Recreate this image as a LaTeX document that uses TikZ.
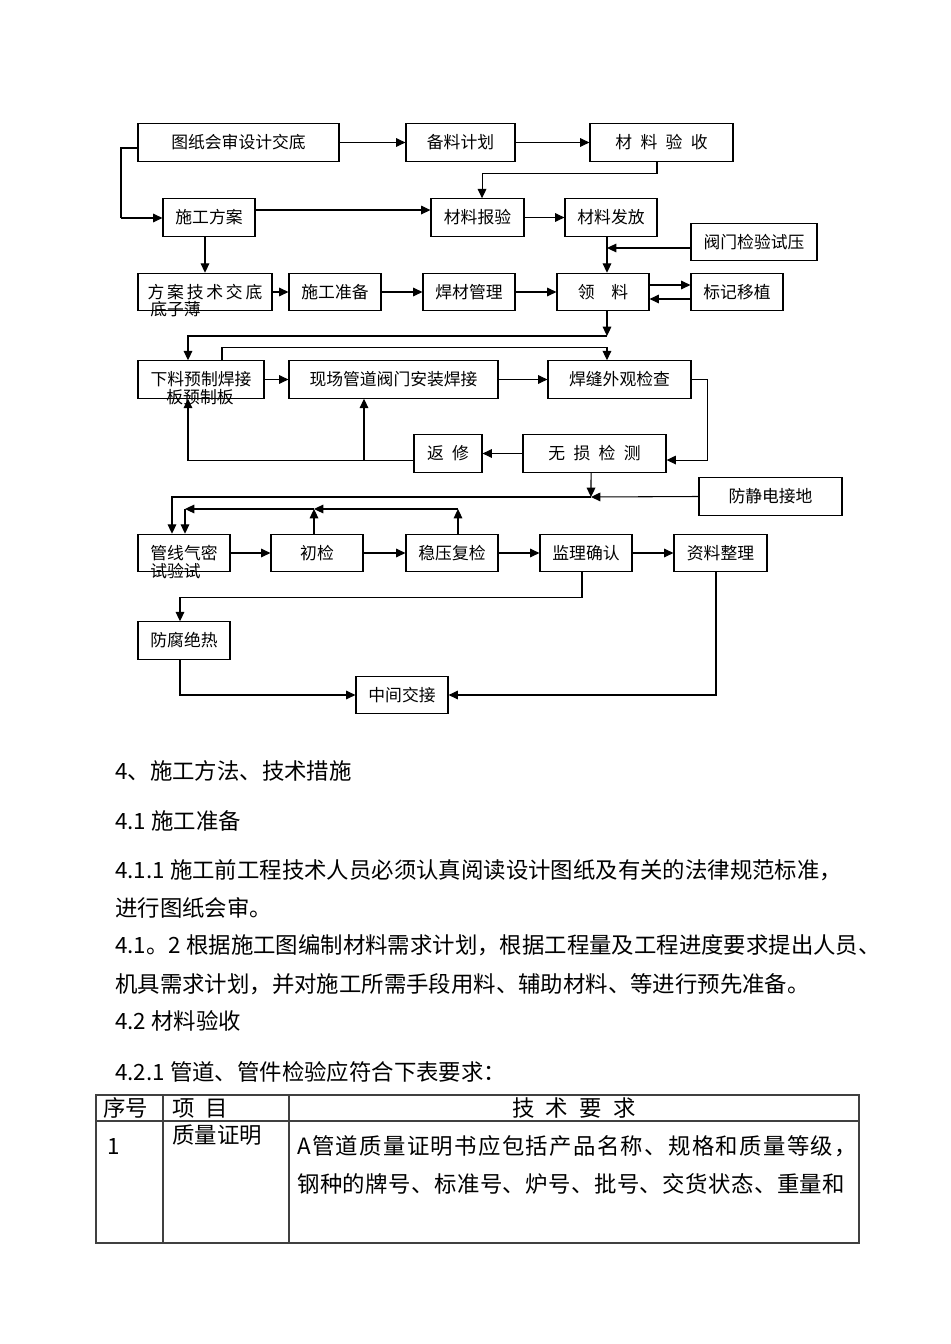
\documentclass[tikz,border=0pt]{standalone}
\usepackage{fontspec}
\newfontfamily\cjk{Noto Sans CJK SC}
\usetikzlibrary{arrows.meta}

\begin{document}
\begin{tikzpicture}[x=0.75pt, y=-0.75pt,
    box/.style={draw, line width=0.9pt, inner sep=0pt, minimum height=28pt,
        font={\cjk\fontsize{12.6pt}{15pt}\selectfont}},
    boxtxt/.style={inner sep=0pt, font={\cjk\fontsize{12.6pt}{15pt}\selectfont}},
    bodytxt/.style={inner sep=0pt, anchor=west, font={\cjk\fontsize{16.8pt}{20pt}\selectfont}},
    arr/.style={-{Triangle[length=7pt,width=6.5pt]}, line width=0.8pt},
    tbl/.style={line width=0.8pt, black!75}]

\useasboundingbox (0,0) rectangle (950,1344);
\fill[white] (0,0) rectangle (950,1344);

\foreach \n/\cx/\cy/\w/\t in
{   nDesign/238.5/142.5/201/图纸会审设计交底,
    nMatPlan/460.5/142.5/109/备料计划,
    nMatCheck/661.5/142.5/143/材\hspace{.5em}料\hspace{.5em}验\hspace{.5em}收,
    nScheme/209/217.5/92/施工方案,
    nMatReport/477.5/217.5/93/材料报验,
    nMatIssue/611/217.5/92/材料发放,
    nValveTest/754/242/126/阀门检验试压,
    nBriefing/205/292/134/方\,案\,技\,术\,交\,底,
    nPrep/335/292/92/施工准备,
    nWeldMat/469/292/92/焊材管理,
    nPickUp/603/292/92/领\hspace{1em}料,
    nMarking/737/292/92/标记移植,
    nPrefab/201/379.5/126/下料预制焊接,
    nInstall/393.5/379.5/209/现场管道阀门安装焊接,
    nWeldLook/619.5/379.5/143/焊缝外观检查,
    nRepair/448/453.5/68/返\hspace{.5em}修,
    nNDT/594.5/453.5/143/无\hspace{.5em}损\hspace{.5em}检\hspace{.5em}测,
    nGround/770.5/496.5/143/防静电接地,
    nLeakTest/184/553/92/管线气密,
    nFirst/317/553/92/初检,
    nStable/452/553/92/稳压复检,
    nSupervise/586/553/92/监理确认,
    nDocs/720.5/553/93/资料整理,
    nAnticorr/184/640.5/92/防腐绝热,
    nHandover/402/695/92/中间交接
}
{
    \node[box, minimum width=\w*0.75pt] (\n) at (\cx,\cy) {\t};
};

% second lines running out of the boxes
\node[boxtxt, anchor=west] (nBriefingB) at (150,309) {底子薄};
\node[boxtxt] (nPrefabB) at (200,397) {板预制板};
\node[boxtxt, anchor=west] (nLeakTestB) at (150,571) {试验试};

% top part
\draw[arr] (nDesign) -- (nMatPlan);
\draw[arr] (nMatPlan) -- (nMatCheck);
\coordinate (cDesL) at (121,148);
\coordinate (cDesB) at (121,218);
\draw[line width=0.8pt] (nDesign.west |- cDesL) -- (cDesL) -- (cDesB);
\draw[arr] (cDesB) -- (nScheme.west |- cDesB);
\draw[arr] ([yshift=5.6pt]nScheme.east) -- ([yshift=5.6pt]nMatReport.west);
\draw[arr] (nMatReport) -- (nMatIssue);
\draw[arr] ([xshift=-3.4pt]nMatCheck.south) -- ++(0,12) -| ([xshift=3.4pt]nMatReport.north);
\coordinate (cValve) at (607,248);
\draw[arr] (nValveTest.west |- cValve) -- (cValve);
\draw[arr] ([xshift=-3pt]nMatIssue.south) -- ([xshift=3pt]nPickUp.north);

\draw[arr] ([xshift=-3pt]nScheme.south) -- (nBriefing.north);
\foreach \a/\b in {nBriefing/nPrep, nPrep/nWeldMat, nWeldMat/nPickUp}
{
    \draw[arr] (\a) -- (\b);
};
\draw[arr] ([yshift=5.25pt]nPickUp.east) -- ([yshift=5.25pt]nMarking.west);
\draw[arr] ([yshift=-5.25pt]nMarking.west) -- ([yshift=-5.25pt]nPickUp.east);

% welding loop
\coordinate (cPick) at (607,336);
\draw[arr] ([xshift=3pt]nPickUp.south) -- (cPick);
\draw[arr] (cPick) -| ([xshift=-9.75pt]nPrefab.north);
\draw[arr] ([xshift=15.75pt]nPrefab.north) -- ++(0,-13) -| ([xshift=-9.4pt]nWeldLook.north);
\draw[arr] (nPrefab) -- (nInstall);
\draw[arr] (nInstall) -- (nWeldLook);
\draw[arr] (nWeldLook.east) -- ++(16,0) |- ([yshift=-4.9pt]nNDT.east);
\draw[arr] (nNDT) -- (nRepair);
\coordinate (cRepair) at (364,460);
\draw[arr] ([yshift=-4.9pt]nRepair.west) -| ([xshift=-9.75pt]nPrefab.south);
\draw[arr] (cRepair) -- (nInstall.south -| cRepair);

% testing
\coordinate (cGround) at (591,497);
\draw[arr] ([xshift=-2.6pt]nNDT.south) -- (cGround);
\draw[arr] (nGround.west) -- (cGround);
\draw[arr] (cGround) -| ([xshift=-9pt]nLeakTest.north);
\coordinate (cStable) at (458,509);
\coordinate (cFirst) at (314,509);
\coordinate (cLeak) at (185,509);
\draw[arr] (nStable.north -| cStable) -- (cStable);
\draw[arr] (cStable) -- (cFirst);
\draw[arr] (nFirst.north -| cFirst) -- (cFirst);
\draw[arr] (cFirst) -- (cLeak);
\draw[arr] (cLeak) -- (nLeakTest.north -| cLeak);
\foreach \a/\b in {nLeakTest/nFirst, nFirst/nStable, nStable/nSupervise, nSupervise/nDocs}
{
    \draw[arr] (\a) -- (\b);
};
\draw[arr] ([xshift=-3pt]nSupervise.south) -- ++(0,25) -| ([xshift=-3pt]nAnticorr.north);
\draw[arr] ([xshift=-3pt]nAnticorr.south) |- (nHandover.west);
\draw[arr] ([xshift=-3.4pt]nDocs.south) |- (nHandover.east);

% text below
\foreach \y/\t in
{   771/4、施工方法、技术措施,
    821/4.1 施工准备,
    870/4.1.1 施工前工程技术人员必须认真阅读设计图纸及有关的法律规范标准，,
    908/进行图纸会审。,
    945/4.1。2 根据施工图编制材料需求计划，根据工程量及工程进度要求提出人员、,
    984/机具需求计划，并对施工所需手段用料、辅助材料、等进行预先准备。,
    1021/4.2 材料验收,
    1072/4.2.1 管道、管件检验应符合下表要求：
}
{
    \node[bodytxt] (tL\y) at (115,\y) {\t};
};

% table
\draw[tbl] (96,1095) rectangle (859,1243);
\draw[tbl] (96,1121) -- (859,1121);
\draw[tbl] (163,1095) -- (163,1243);
\draw[tbl] (289,1095) -- (289,1243);
\node[bodytxt] (tNo) at (103,1108) {序号};
\node[bodytxt] (tItem) at (172,1108) {项\hspace{.5em}目};
\node[bodytxt, anchor=center] (tReq) at (574,1108) {技\hspace{.5em}术\hspace{.5em}要\hspace{.5em}求};
\node[bodytxt] (tOne) at (107,1146) {1};
\node[bodytxt] (tQual) at (172,1135) {质量证明};
\node[bodytxt] (tReqA) at (297,1146) {\addfontfeatures{LetterSpace=6}A管道质量证明书应包括产品名称、规格和质量等级，};
\node[bodytxt] (tReqB) at (297,1184) {\addfontfeatures{LetterSpace=2}钢种的牌号、标准号、炉号、批号、交货状态、重量和};

\end{tikzpicture}
\end{document}
